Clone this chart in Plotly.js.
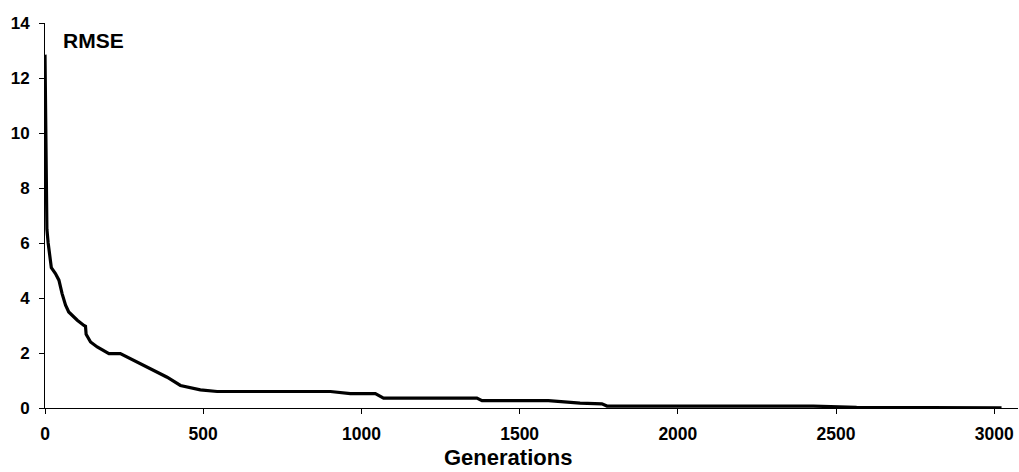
<!DOCTYPE html>
<html>
<head>
<meta charset="utf-8">
<script src="https://cdn.plot.ly/plotly-3.0.1.min.js"></script>
<style>html,body{margin:0;padding:0;background:#fff;}#chart{width:1019px;height:472px;}</style>
</head>
<body>
<div id="chart"></div>
<script>
const generations = [0, 2, 4, 6, 10, 15, 20, 33, 44, 54, 65, 75, 102, 123, 128, 130, 144, 165, 202, 238, 281, 339, 386, 428, 491, 544, 807, 902, 965, 1044, 1070, 1365, 1381, 1591, 1691, 1760, 1776, 2121, 2428, 2565, 3023];
const rmse = [12.85, 11.0, 8.5, 6.5, 6.0, 5.6, 5.1, 4.89, 4.65, 4.16, 3.74, 3.49, 3.19, 3.0, 2.97, 2.68, 2.40, 2.22, 1.98, 1.98, 1.73, 1.37, 1.12, 0.82, 0.66, 0.60, 0.60, 0.60, 0.52, 0.52, 0.36, 0.36, 0.27, 0.27, 0.18, 0.15, 0.07, 0.07, 0.07, 0.02, 0.01];
const xTicks = [0, 500, 1000, 1500, 2000, 2500, 3000];
const yTicks = [0, 2, 4, 6, 8, 10, 12, 14];
const yLabel = 'RMSE';
const xLabel = 'Generations';

const F = 'Liberation Sans, Arial, sans-serif';
const data = [{
  x: generations, y: rmse, type: 'scatter', mode: 'lines',
  line: {color: '#000000', width: 3.2, shape: 'linear'},
  hoverinfo: 'skip'
}];
const layout = {
  width: 1019, height: 472,
  margin: {l: 45, r: 1, t: 23, b: 64, pad: 0},
  paper_bgcolor: '#ffffff', plot_bgcolor: '#ffffff',
  showlegend: false,
  font: {family: F, color: '#000000'},
  xaxis: {
    range: [0, 3075], tickvals: xTicks, ticktext: xTicks.map(String),
    showgrid: false, zeroline: false, showline: true, linecolor: '#000000', linewidth: 1,
    ticks: 'outside', ticklen: 5, tickwidth: 1, tickcolor: '#000000',
    tickfont: {family: F, size: 17.5, weight: 'bold', color: '#000000'},
    ticklabelstandoff: 5
  },
  yaxis: {
    range: [0, 14], tickvals: yTicks, ticktext: yTicks.map(String),
    showgrid: false, zeroline: false, showline: true, linecolor: '#000000', linewidth: 1,
    ticks: 'outside', ticklen: 5, tickwidth: 1, tickcolor: '#000000',
    tickfont: {family: F, size: 17, weight: 'bold', color: '#000000'},
    ticklabelstandoff: 6
  },
  annotations: [
    {text: yLabel, xref: 'paper', yref: 'paper', x: 0.016, y: 0.955, xanchor: 'left', yanchor: 'middle',
     showarrow: false, font: {family: F, size: 21, weight: 'bold', color: '#000000'}},
    {text: xLabel, xref: 'paper', yref: 'paper', x: 0.476, y: -0.128, xanchor: 'center', yanchor: 'middle',
     showarrow: false, font: {family: F, size: 22, weight: 'bold', color: '#000000'}}
  ]
};
Plotly.newPlot('chart', data, layout, {staticPlot: true, displayModeBar: false});
</script>
</body>
</html>
